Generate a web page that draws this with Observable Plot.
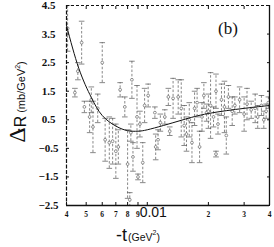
<!DOCTYPE html>
<html><head><meta charset="utf-8">
<script src="https://cdn.jsdelivr.net/npm/d3@7"></script>
<script src="https://cdn.jsdelivr.net/npm/@observablehq/plot@0.6"></script>
<style>body{margin:0;background:#fff;} #c{position:relative;width:274px;height:247px;overflow:hidden;}</style>
</head><body><div id="c"></div>
<script>
// data
const ptX = [0.00405,0.00475,0.00455,0.0044,0.006,0.0084,0.00735,0.00775,0.0049,0.0053,0.0052,0.0054,0.0057,0.0062,0.0065,0.00675,0.007,0.0072,0.008,0.0082,0.0083,0.0085,
  0.0089,0.0092,0.0095,0.009,0.0097,0.0101,0.0109,0.011,0.0113,0.0116,0.0122,0.0129,0.0134,0.0127,0.0142,0.0147,0.0152,0.0156,0.0161,0.0166,0.0171,0.0176,0.0181,0.0186,
  0.019,0.0196,0.02,0.0205,0.0212,0.0218,0.0218,0.0223,0.0232,0.024,0.0245,0.0251,0.0262,0.027,0.0285,0.03,0.031,0.0325,0.034,0.035,0.0365,0.0375,0.0385,0.0395];
const ptY = [3.7,3.2,2.2,1.45,2.5,1.9,1.55,0.95,0.95,1.2,0.6,0.25,0.9,-0.2,-0.3,-0.25,-0.6,-0.45,-1.05,-2.3,0.05,-0.8,
  0.6,0.35,-1.0,-1.5,1.0,1.35,0.75,-0.45,-0.2,0.4,0.6,0.1,1.25,1.3,1.3,0.9,0.3,0.0,0.5,-0.3,0.9,1.1,-0.45,0.6,
  1.35,0.75,0.8,1.0,0.6,1.5,-0.7,0.35,1.2,0.95,-0.05,1.3,0.8,1.0,1.2,0.7,1.05,0.85,0.9,0.6,1.0,0.5,0.8,1.1];
const ptErr = [0.8,0.75,0.3,0.15,0.7,0.65,0.25,0.35,0.2,0.45,0.55,0.9,0.5,0.75,0.9,0.8,0.95,0.6,1.2,0.25,0.3,0.5,
  1.1,0.45,0.7,0.1,0.6,0.4,0.2,0.45,0.35,0.3,0.25,0.15,0.7,0.3,0.6,1.0,0.7,0.6,0.6,0.7,0.6,0.5,0.55,0.5,
  0.45,0.3,0.6,1.15,0.35,0.6,0.1,0.35,0.55,0.9,0.65,0.4,0.5,0.3,0.45,0.6,0.55,0.3,0.5,0.4,0.35,0.3,0.25,0.2];
const fitX = [0.004,0.0046,0.0053,0.006,0.007,0.008,0.009,0.01,0.012,0.015,0.02,0.03,0.04];
const fitY = [3.8,2.3,1.28,0.65,0.28,0.12,0.1,0.15,0.3,0.5,0.72,0.9,1.0];
const yTicks = [4.5,3.5,2.5,1.5,0.5,-0.5,-1.5,-2.5];
const xMinorTicks = [0.004,0.005,0.006,0.007,0.008,0.009,0.02,0.03,0.04];
const xMinorLabels = ["4","5","6","7","8","9","2","3","4"];
const xMajorTicks = [0.01];
const xMajorLabels = ["0.01"];
const xDomain = [0.004, 0.04];
const yDomain = [-2.5, 4.5];

const pts = ptX.map((x, i) => ({x, y: ptY[i], e: ptErr[i]}));
const caps = pts.flatMap(d => [{x: d.x, y: d.y + d.e}, {x: d.x, y: d.y - d.e}]);
const fit = fitX.map((x, i) => ({x, y: fitY[i]}));
const minorTicks = xMinorTicks.map((t, i) => ({t, label: xMinorLabels[i]}));
const majorTicks = xMajorTicks.map((t, i) => ({t, label: xMajorLabels[i]}));
const capSymbol = {draw(ctx, size) { const w = Math.sqrt(size / Math.PI); ctx.moveTo(-w, 0); ctx.lineTo(w, 0); }};
const fmtY = d => (d < 0 ? "\u2212" : "") + Math.abs(d).toFixed(1);
const serif = "'Liberation Serif', 'DejaVu Serif', serif";
const sans = "'Liberation Sans', Arial, sans-serif";

const chart = Plot.plot({
  width: 274, height: 247,
  marginTop: 5, marginBottom: 42, marginLeft: 66, marginRight: 5,
  style: {background: "white", color: "#111"},
  x: {type: "log", domain: xDomain, label: null},
  y: {domain: yDomain, label: null},
  marks: [
    Plot.ruleX(pts, {x: "x", y1: d => d.y - d.e, y2: d => d.y + d.e, stroke: "#555", strokeWidth: 0.7, strokeDasharray: "2.5,1.8", clip: true}),
    Plot.dot(caps, {x: "x", y: "y", symbol: capSymbol, r: 2.8, stroke: "#555", strokeWidth: 0.7, clip: true}),
    Plot.dot(pts, {x: "x", y: "y", r: 1.4, stroke: "#666", strokeWidth: 0.7, fill: "white", clip: true}),
    Plot.line(fit, {x: "x", y: "y", curve: "natural", stroke: "#111", strokeWidth: 1, clip: true}),
    Plot.ruleY([yDomain[0]], {stroke: "#111", strokeWidth: 1.3}),
    Plot.ruleY([yDomain[1]], {stroke: "#111", strokeWidth: 1.1, strokeDasharray: "3,2"}),
    Plot.ruleX([xDomain[0]], {stroke: "#111", strokeWidth: 1.2, strokeDasharray: "4,1.5"}),
    Plot.ruleX([xDomain[1]], {stroke: "#111", strokeWidth: 1.3}),
    Plot.axisY(yTicks, {anchor: "left", tickSize: 0, tickPadding: 18, textAnchor: "middle", tickFormat: fmtY, fontSize: 11, fontWeight: "bold", fontFamily: serif, label: null}),
    Plot.axisY(yTicks, {anchor: "left", tickSize: -3, tickFormat: () => "", label: null}),
    Plot.axisY(yTicks, {anchor: "right", tickSize: -3, tickFormat: () => "", label: null}),
    Plot.axisX(xMinorTicks.concat(xMajorTicks), {anchor: "bottom", tickSize: -3, tickFormat: () => "", label: null}),
    Plot.axisX(xMinorTicks.concat(xMajorTicks), {anchor: "top", tickSize: -3, tickFormat: () => "", label: null}),
    Plot.text(minorTicks, {x: "t", text: "label", frameAnchor: "bottom", lineAnchor: "top", dy: 6, fontSize: 7.5, fontWeight: "bold", fontFamily: serif, fill: "#111"}),
    Plot.text(majorTicks, {x: "t", text: "label", frameAnchor: "bottom", lineAnchor: "top", dy: 2, dx: 6, fontSize: 14, fontFamily: sans, fill: "#111"})
  ]
});
document.getElementById("c").appendChild(chart);
const svg = d3.select(chart);
// y axis title (rotated)
const yl = svg.append("text").attr("transform", "translate(25,102) rotate(-90)").attr("fill", "#111");
yl.append("tspan").attr("font-family", serif).attr("font-size", 24).text("\u0394");
yl.append("tspan").attr("font-family", sans).attr("font-size", 16).attr("dy", 1).text("R");
yl.append("tspan").attr("font-family", sans).attr("font-size", 11).attr("dx", 3).attr("dy", -1).text("(mb/GeV");
yl.append("tspan").attr("font-family", sans).attr("font-size", 7).attr("dy", -5).text("2");
yl.append("tspan").attr("font-family", sans).attr("font-size", 11).attr("dy", 5).text(")");
// panel tag
svg.append("text").attr("x", 228).attr("y", 34).attr("font-family", serif).attr("font-size", 17).attr("fill", "#111").text("(b)");
// x axis title
const xl = svg.append("text").attr("x", 138).attr("y", 241).attr("fill", "#111").attr("font-family", sans);
xl.append("tspan").attr("font-size", 18).text("-t");
xl.append("tspan").attr("font-size", 10.5).attr("dx", 1).text("(GeV");
xl.append("tspan").attr("font-size", 7).attr("dy", -6).text("2");
xl.append("tspan").attr("font-size", 10.5).attr("dy", 6).text(")");
// stray mark in the scan
svg.append("text").attr("x", 19).attr("y", 133).attr("font-size", 8).attr("fill", "#111").text("\u2022");
</script>
</body></html>
